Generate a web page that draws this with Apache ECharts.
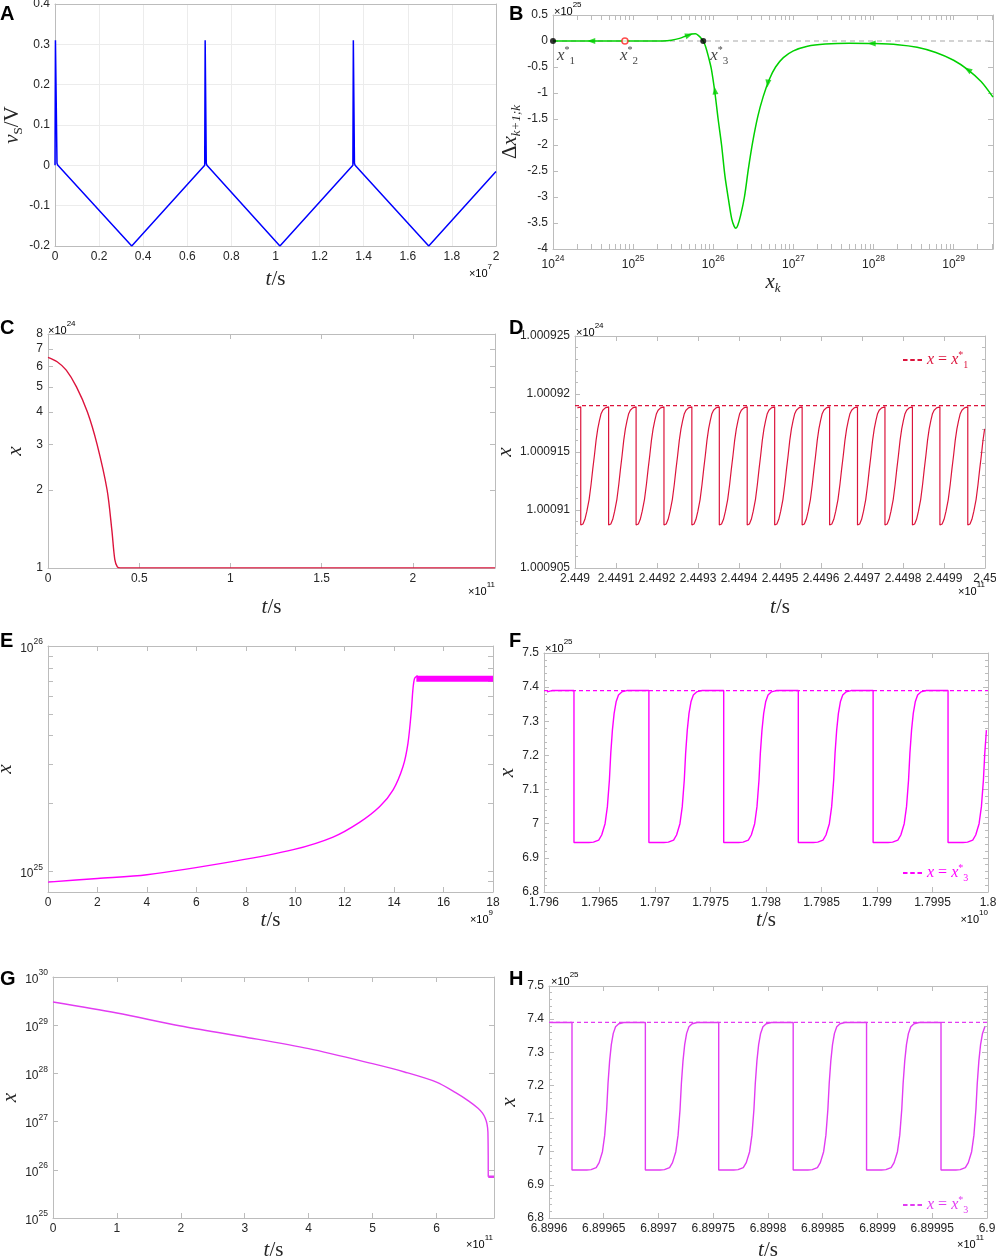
<!DOCTYPE html>
<html>
<head>
<meta charset="utf-8">
<script src="https://cdn.jsdelivr.net/npm/echarts@6/dist/echarts.min.js"></script>
<style>
  html, body { margin: 0; padding: 0; background: #fff; }
  #chart { width: 996px; height: 1260px; }
</style>
</head>
<body>
<div id="chart"></div>
<script>
// ---------- data ----------
// A: source voltage, t in units of 1e7 s
const aT = [0, 0.002, 0.004, 0.009, 0.013, 0.348, 0.679, 0.681, 0.684, 0.686, 0.689, 1.020, 1.351, 1.353, 1.356, 1.358, 1.361, 1.695, 2.0];
const aV = [0, 0.31, 0.31, 0.005, 0, -0.2, 0, 0.31, 0.31, 0.005, 0, -0.2, 0, 0.31, 0.31, 0.005, 0, -0.2, -0.015];

// B: return map, x_k raw, delta in units of 1e25
const bX = [1e24, 3e24, 8e24, 1.5e25, 2.3e25, 3.0e25, 3.8e25, 4.6e25, 5.4e25, 6.0e25, 6.6e25, 7.1e25, 7.5e25, 8.0e25, 8.7e25, 9.5e25,
  1.05e26, 1.15e26, 1.27e26, 1.4e26, 1.55e26, 1.7e26, 1.82e26, 1.92e26, 2.02e26, 2.2e26, 2.45e26, 2.75e26, 3.1e26, 3.6e26, 4.2e26,
  5.0e26, 6.0e26, 7.5e26, 1.0e27, 1.5e27, 2.5e27, 5e27, 1e28, 2e28, 3.5e28, 6e28, 1e29, 1.5e29, 2.2e29, 3.1e29];
const bY = [0, 0, 0, 0, 0.002, 0.015, 0.05, 0.1, 0.135, 0.14, 0.1, 0.05, 0, -0.1, -0.3, -0.55,
  -1.0, -1.5, -2.0, -2.6, -3.05, -3.42, -3.56, -3.6, -3.55, -3.35, -3.0, -2.45, -1.95, -1.45, -1.07,
  -0.74, -0.5, -0.32, -0.19, -0.1, -0.06, -0.045, -0.05, -0.07, -0.12, -0.22, -0.37, -0.55, -0.78, -1.08];
const bArrowX = [3e24, 5.0e25, 1.05e26, 4.8e26, 9.5e27, 1.5e29];
const bArrowY = [0, 0.115, -0.95, -0.82, -0.05, -0.55];
const bArrowRot = [90, -70, 8, 172, 90, 58];
const bFixX = [1e24, 7.9e24, 7.5e25];
const bFixY = [0, 0, 0];
const bZeroX = [1e24, 3.1e29];
const bZeroY = [0, 0];

// C: x (units 1e24) vs t (units 1e11)
const cT = [0, 0.05, 0.1, 0.156, 0.216, 0.269, 0.324, 0.35, 0.366, 0.38, 0.395, 2.45];
const cV = [6.5, 6.25, 5.8, 5.0, 4.0, 3.0, 2.0, 1.4, 1.08, 1.01, 1.0009, 1.0009];

// D: zoom near x1*, t in 1e11, x in 1e24
const dDrops = [2.449014, 2.449082, 2.449149, 2.449217, 2.449285, 2.449352, 2.44942, 2.449487, 2.449554, 2.449621, 2.449689, 2.449756, 2.449823, 2.44989, 2.449958];
const dPhase = [0, 0.08, 0.15, 0.22, 0.3, 0.37, 0.43, 0.49, 0.55, 0.61, 0.67, 0.73, 0.79, 0.88, 1];
const dVal = [1.0009087, 1.0009088, 1.0009092, 1.0009099, 1.0009109, 1.0009122, 1.0009135, 1.0009147, 1.000916, 1.000917, 1.0009177, 1.0009183, 1.0009186, 1.0009188, 1.0009189];
const dRefX = [2.449, 2.45];
const dRefY = [1.000919, 1.000919];

// E: x raw vs t (units 1e9)
const eT = [0, 2, 4, 7.5, 9.92, 11.53, 12.6, 13.42, 13.96, 14.36, 14.56, 14.7, 14.76, 14.83, 14.95];
const eV = [8.96e24, 9.3e24, 9.66e24, 1.107e25, 1.248e25, 1.42e25, 1.65e25, 1.94e25, 2.3e25, 2.92e25, 3.7e25, 5.2e25, 6.4e25, 7.2e25, 7.39e25];
const eBandT = [14.9, 18];
const eBandV = [7.16e25, 7.16e25];

// F, H: oscillation around x3* (x in 1e25)
const fDrops = [1.79627, 1.796945, 1.797619, 1.798291, 1.798965, 1.79964];
const hDrops = [6.899621, 6.899688, 6.899755, 6.899823, 6.89989, 6.899958];
const osPhase = [0, 0.2, 0.26, 0.33, 0.37, 0.415, 0.446, 0.473, 0.491, 0.513, 0.536, 0.5625, 0.594, 0.638, 0.705, 1];
const osVal = [6.945, 6.945, 6.946, 6.952, 6.967, 7.0, 7.05, 7.128, 7.206, 7.274, 7.323, 7.357, 7.377, 7.386, 7.39, 7.39];
const fRefX = [1.796, 1.8];
const hRefX = [6.8996, 6.9];
const x3RefY = [7.39, 7.39];

// G: x raw vs t (units 1e11)
const gT = [0, 1, 2, 3, 4, 5, 5.5, 6, 6.3, 6.5, 6.65, 6.72, 6.76, 6.79, 6.805, 6.81];
const gV = [3.03e29, 1.79e29, 9.6e28, 5.7e28, 3.26e28, 1.59e28, 1.07e28, 6.6e27, 4.0e27, 2.7e27, 1.9e27, 1.5e27, 1.2e27, 9e26, 6e26, 7.2e25];
const gBandT = [6.81, 6.9];
const gBandV = [7.16e25, 7.16e25];

// tick positions
const cTicks = [1, 2, 3, 4, 5, 6, 7, 8];
const eMinorTicks = [9e24, 1e25, 2e25, 3e25, 4e25, 5e25, 6e25, 7e25, 8e25, 9e25];
const bDecades = [24, 25, 26, 27, 28, 29];
const bMantissas = [1, 2, 3, 4, 5, 6, 7, 8, 9];

// ---------- helpers ----------
const SANS = '"Liberation Sans", Arial, Helvetica, sans-serif';
const SERIF = '"Liberation Serif", "DejaVu Serif", serif';
const TXT = '#262626';
const GRAY = '#bcbcbc';
const zip = (xs, ys) => xs.map((x, i) => [x, ys[i]]);

// repeat one measured cycle shape between measured drop times, kept inside [lo, hi]
function cycles(drops, phase, vals, lo, hi) {
  const period = (drops[drops.length - 1] - drops[0]) / (drops.length - 1);
  const starts = [drops[0] - period].concat(drops);
  const pts = [];
  starts.forEach((s, i) => {
    const e = i + 1 < starts.length ? starts[i + 1] : s + period;
    phase.forEach((p, j) => pts.push([s + p * (e - s), vals[j]]));
  });
  return pts.filter(p => p[0] >= lo && p[0] <= hi);
}

const POW = {
  m: { fontFamily: SANS, fontSize: 12, color: TXT, lineHeight: 17, verticalAlign: 'bottom' },
  s: { fontFamily: SANS, fontSize: 8.5, color: TXT, lineHeight: 9, verticalAlign: 'top' }
};
const pow10 = v => '{m|10}{s|' + Math.round(Math.log10(v)) + '}';

const NAME_RICH = {
  i: { fontFamily: SERIF, fontStyle: 'italic', fontSize: 21, color: TXT, lineHeight: 26, verticalAlign: 'middle' },
  n: { fontFamily: SERIF, fontSize: 21, color: TXT, lineHeight: 26, verticalAlign: 'middle' },
  sub: { fontFamily: SERIF, fontSize: 13, color: TXT, lineHeight: 14, verticalAlign: 'bottom' },
  subi: { fontFamily: SERIF, fontStyle: 'italic', fontSize: 13, color: TXT, lineHeight: 14, verticalAlign: 'bottom' }
};

const fix = d => v => String(+v.toFixed(d));

function mkAxis(gi, pos, s, mirror) {
  const ax = {
    gridIndex: gi, position: pos, type: s.type || 'value',
    min: s.min, max: s.max,
    axisLine: { show: true, onZero: false, lineStyle: { color: GRAY, width: 1 } },
    axisTick: { show: s.ticks !== false, inside: true, length: 5, lineStyle: { color: GRAY } },
    axisLabel: {
      show: !mirror, color: TXT, fontFamily: SANS, fontSize: 12, margin: 5,
      showMinLabel: s.showMin !== false, showMaxLabel: s.showMax !== false
    },
    splitLine: { show: !!s.grid && !mirror, lineStyle: { color: '#ececec' } },
    minorTick: { show: !!s.minor, splitNumber: s.minor || 5, length: 3, lineStyle: { color: GRAY } }
  };
  if (s.interval != null) ax.interval = s.interval;
  if (s.fmt) ax.axisLabel.formatter = s.fmt;
  if (s.rich) ax.axisLabel.rich = s.rich;
  if (s.labelVals) ax.axisLabel.customValues = s.labelVals;
  const tv = mirror && s.mirrorTicks ? s.mirrorTicks : s.tickVals;
  if (tv) ax.axisTick.customValues = tv;
  if (!mirror && s.name) {
    ax.name = s.name;
    ax.nameLocation = 'middle';
    ax.nameGap = s.nameGap;
    if (pos === 'left') ax.nameRotate = 90;
    ax.nameTextStyle = { rich: NAME_RICH };
  }
  return ax;
}

const TS = '{i|t}{n|/s}';
const XN = '{i|x}';

const bAllTicks = [];
bDecades.forEach(d => bMantissas.forEach(m => { const v = m * Math.pow(10, d); if (v <= 3.1e29) bAllTicks.push(v); }));

const panels = [
  { grid: { left: 55, top: 4, width: 441, height: 242 },
    x: { min: 0, max: 2, interval: 0.2, fmt: fix(2), grid: true, ticks: false, name: TS, nameGap: 20 },
    y: { min: -0.2, max: 0.4, interval: 0.1, fmt: fix(1), grid: true, ticks: false, name: '{i|v}{sub|S}{n|/V}', nameGap: 17 } },
  { grid: { left: 553, top: 15, width: 440, height: 234 },
    x: { type: 'log', min: 1e24, max: 3.1e29, fmt: pow10, rich: POW, showMax: false, tickVals: bAllTicks, name: '{i|x}{subi|k}', nameGap: 20 },
    y: { min: -4, max: 0.5, interval: 0.5, fmt: fix(1), name: '{n|Δ}{i|x}{subi|k+1;k}', nameGap: 23 } },
  { grid: { left: 48, top: 334, width: 447, height: 234 },
    x: { min: 0, max: 2.45, interval: 0.5, fmt: fix(1), showMax: false, name: TS, nameGap: 26 },
    y: { type: 'log', min: 1, max: 8, labelVals: cTicks, tickVals: cTicks, fmt: v => String(Math.round(v)), name: XN, nameGap: 20 } },
  { grid: { left: 575, top: 336, width: 410, height: 232 },
    x: { min: 2.449, max: 2.45, interval: 0.0001, fmt: fix(4), name: TS, nameGap: 26 },
    y: { min: 1.000905, max: 1.000925, interval: 0.000005, fmt: fix(6), minor: 5, name: XN, nameGap: 48 } },
  { grid: { left: 48, top: 646, width: 445, height: 246 },
    x: { min: 0, max: 18, interval: 2, fmt: fix(0), name: TS, nameGap: 15 },
    y: { type: 'log', min: 8.1e24, max: 1e26, showMin: false, tickVals: eMinorTicks, fmt: pow10, rich: POW, name: XN, nameGap: 17 } },
  { grid: { left: 544, top: 653, width: 444, height: 239 },
    x: { min: 1.796, max: 1.8, interval: 0.0005, fmt: fix(4), name: TS, nameGap: 15 },
    y: { min: 6.8, max: 7.5, interval: 0.1, fmt: fix(1), minor: 5, name: XN, nameGap: 22 } },
  { grid: { left: 53, top: 977, width: 441, height: 241 },
    x: { min: 0, max: 6.9, interval: 1, fmt: fix(0), showMax: false, name: TS, nameGap: 19 },
    y: { type: 'log', min: 1e25, max: 1e30, fmt: pow10, rich: POW, name: XN, nameGap: 26 } },
  { grid: { left: 549, top: 986, width: 438, height: 232 },
    x: { min: 6.8996, max: 6.9, interval: 0.00005, fmt: fix(5), name: TS, nameGap: 19 },
    y: { min: 6.8, max: 7.5, interval: 0.1, fmt: fix(1), minor: 5, name: XN, nameGap: 27 } }
];

const grid = [], xAxis = [], yAxis = [];
panels.forEach((p, gi) => {
  grid.push(Object.assign({ containLabel: false, outerBoundsMode: 'none' }, p.grid));
  xAxis.push(mkAxis(gi, 'bottom', p.x, false), mkAxis(gi, 'top', p.x, true));
  yAxis.push(mkAxis(gi, 'left', p.y, false), mkAxis(gi, 'right', p.y, true));
});

const series = [];
function line(gi, data, color, width, extra) {
  series.push(Object.assign({
    type: 'line', xAxisIndex: 2 * gi, yAxisIndex: 2 * gi, data,
    showSymbol: false, symbol: 'none', clip: true, silent: true,
    lineStyle: { color, width }, itemStyle: { color }, z: 3
  }, extra || {}));
}
const SMOOTH = { smooth: 0.3 };

const BLUE = '#0000ff', GREEN = '#00d000', RED = '#dc143c', MAG = '#ff00ff', VIO = '#e23cf2';

line(0, zip(aT, aV), BLUE, 1.5);

line(1, zip(bZeroX, bZeroY), '#a8a8a8', 1.2, { lineStyle: { color: '#a8a8a8', width: 1.2, type: [5, 4] }, z: 2 });
line(1, zip(bX, bY), GREEN, 1.5, SMOOTH);
series.push({
  type: 'scatter', xAxisIndex: 2, yAxisIndex: 2, silent: true, z: 4,
  symbol: 'triangle', symbolSize: [6, 8],
  itemStyle: { color: GREEN },
  data: bArrowX.map((x, i) => ({ value: [x, bArrowY[i]], symbolRotate: bArrowRot[i] }))
});
series.push({
  type: 'scatter', xAxisIndex: 2, yAxisIndex: 2, silent: true, z: 5, clip: false,
  symbol: 'circle', symbolSize: 6,
  data: bFixX.map((x, i) => ({
    value: [x, bFixY[i]], name: String(i + 1),
    itemStyle: i === 1 ? { color: '#fff', borderColor: '#ff2020', borderWidth: 1.5 } : { color: '#000' },
    label: { offset: i === 1 ? [4, 15] : (i === 0 ? [13, 15] : [16, 15]) }
  })),
  label: {
    show: true, position: 'inside',
    formatter: p => '{i|x}{sup|*}{sub|' + p.name + '}',
    rich: {
      i: { fontFamily: SERIF, fontStyle: 'italic', fontSize: 17, color: '#111', lineHeight: 22, verticalAlign: 'middle' },
      sup: { fontFamily: SERIF, fontSize: 10, color: '#111', lineHeight: 10, verticalAlign: 'top' },
      sub: { fontFamily: SERIF, fontSize: 11, color: '#111', lineHeight: 11, verticalAlign: 'bottom' }
    }
  }
});

line(2, zip(cT, cV), RED, 1.4, SMOOTH);

line(3, zip(dRefX, dRefY), RED, 1.2, { name: 'refD', lineStyle: { color: RED, width: 1.2, type: [4, 3] }, z: 2 });
line(3, cycles(dDrops, dPhase, dVal, 2.449, 2.45), RED, 1.2);

line(4, zip(eT, eV), MAG, 1.4, SMOOTH);
line(4, zip(eBandT, eBandV), MAG, 6, { lineStyle: { color: MAG, width: 6, cap: 'butt' } });

line(5, zip(fRefX, x3RefY), MAG, 1.2, { name: 'refF', lineStyle: { color: MAG, width: 1.2, type: [4, 3] }, z: 2 });
line(5, cycles(fDrops, osPhase, osVal, 1.796, 1.8), MAG, 1.4);

line(6, zip(gT, gV), VIO, 1.4, SMOOTH);
line(6, zip(gBandT, gBandV), VIO, 2.5, { lineStyle: { color: VIO, width: 2.5, cap: 'butt' } });

line(7, zip(hRefX, x3RefY), VIO, 1.2, { name: 'refH', lineStyle: { color: VIO, width: 1.2, type: [4, 3] }, z: 2 });
line(7, cycles(hDrops, osPhase, osVal, 6.8996, 6.9), VIO, 1.4);

function legendRich(color) {
  return {
    i: { fontFamily: SERIF, fontStyle: 'italic', fontSize: 16, color, lineHeight: 20, verticalAlign: 'middle' },
    n: { fontFamily: SERIF, fontSize: 16, color, lineHeight: 20, verticalAlign: 'middle' },
    sup: { fontFamily: SERIF, fontSize: 10, color, lineHeight: 9, verticalAlign: 'top' },
    sub: { fontFamily: SERIF, fontSize: 10, color, lineHeight: 10, verticalAlign: 'bottom' }
  };
}
const DASH_ICON = 'path://M0 0H5V2H0Z M8 0H13V2H8Z M16 0H21V2H16Z';
function mkLegend(name, left, top, color, idx) {
  return {
    data: [{ name, icon: DASH_ICON }], left, top, orient: 'horizontal', padding: 0, itemGap: 4,
    itemWidth: 19, itemHeight: 2, selectedMode: false,
    itemStyle: { color },
    formatter: () => '{i|x}{n| = }{i|x}{sup|*}{sub|' + idx + '}',
    textStyle: { color, rich: legendRich(color) }
  };
}

// panel letters and axis multipliers
const graphic = [];
[['A', 0, 14], ['B', 509, 14], ['C', 0, 328], ['D', 509, 328], ['E', 0, 641], ['F', 509, 641], ['G', 0, 979], ['H', 509, 979]]
  .forEach(([t, x, y]) => graphic.push({
    type: 'text', x, y, style: { text: t, font: 'bold 20px ' + SANS, fill: '#000', verticalAlign: 'middle' }
  }));
const MULT = {
  m: { fontFamily: SANS, fontSize: 11, color: TXT, lineHeight: 16, verticalAlign: 'bottom' },
  s: { fontFamily: SANS, fontSize: 8, color: TXT, lineHeight: 8, verticalAlign: 'top' }
};
[[7, 492, 271, 'right'], [25, 554, 9, 'left'], [24, 48, 328, 'left'], [11, 495, 589, 'right'],
 [24, 576, 330, 'left'], [11, 985, 589, 'right'], [9, 493, 917, 'right'], [25, 545, 646, 'left'],
 [10, 988, 917, 'right'], [11, 493, 1242, 'right'], [25, 551, 979, 'left'], [11, 984, 1242, 'right']]
  .forEach(([e, x, y, al]) => graphic.push({
    type: 'text', x, y,
    style: { text: '{m|×10}{s|' + e + '}', rich: MULT, align: al, verticalAlign: 'middle' }
  }));

const chart = echarts.init(document.getElementById('chart'), null, { renderer: 'canvas' });
chart.setOption({
  animation: false,
  backgroundColor: '#fff',
  grid, xAxis, yAxis, series, graphic,
  legend: [
    mkLegend('refD', 903, 350, RED, 1),
    mkLegend('refF', 903, 863, MAG, 3),
    mkLegend('refH', 903, 1195, VIO, 3)
  ]
});
</script>
</body>
</html>
